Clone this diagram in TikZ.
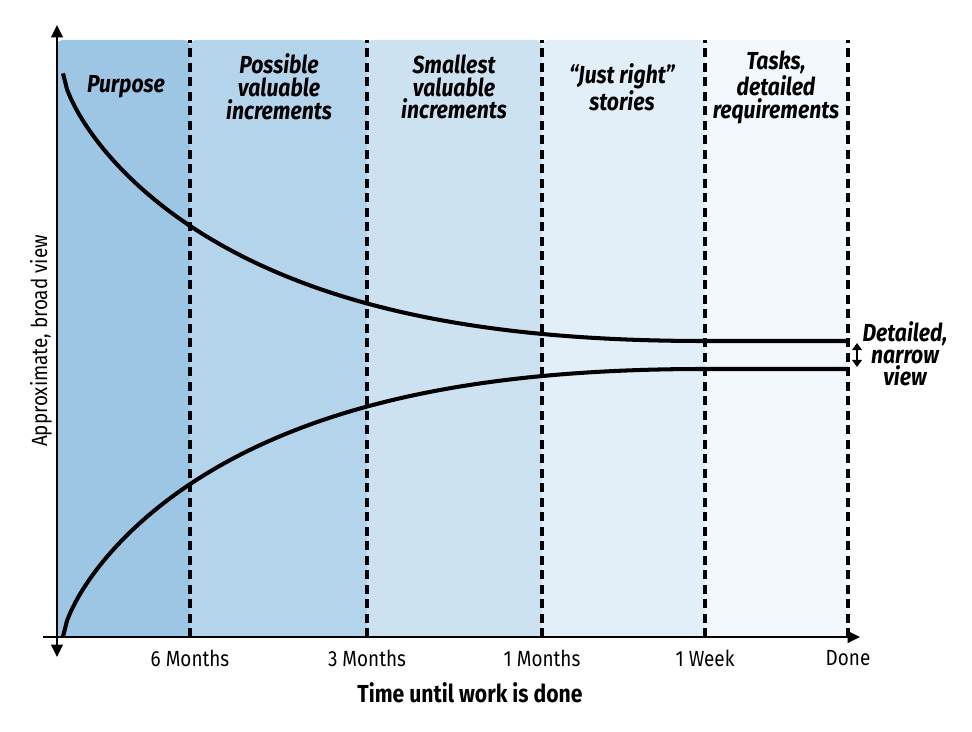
\documentclass[tikz,border=0pt]{standalone}
\usepackage{fontspec}
\setmainfont{Fira Sans}[FakeStretch=0.86]
\usetikzlibrary{arrows.meta}
\definecolor{bandA}{RGB}{157,198,228}
\definecolor{bandB}{RGB}{180,212,235}
\definecolor{bandC}{RGB}{205,226,241}
\definecolor{bandD}{RGB}{227,239,248}
\definecolor{bandE}{RGB}{243,248,252}
\begin{document}
\begin{tikzpicture}[x=0.02cm,y=-0.02cm,
    band/.style={rounded corners=3pt},
    divider/.style={dash pattern=on 0.18cm off 0.11cm, line width=1.8pt},
    curve/.style={line width=2.3pt},
    axis/.style={line width=1.6pt},
    phase/.style={align=center, font=\fontsize{14}{13}\selectfont\bfseries\itshape},
    tick/.style={anchor=north, font=\fontsize{12.5}{14}\selectfont}]
  \useasboundingbox (0,0) rectangle (972,732);
  % points on the time axis
  \coordinate (start) at (57,637);
  \coordinate (m6) at (190,637);
  \coordinate (m3) at (367,637);
  \coordinate (m1) at (542,637);
  \coordinate (w1) at (705,637);
  \coordinate (done) at (848,637);
  % bands
  \fill[bandA, band] (57,40) rectangle (m6);
  \fill[bandB, band] (190,40) rectangle (m3);
  \fill[bandC, band] (367,40) rectangle (m1);
  \fill[bandD, band] (542,40) rectangle (w1);
  \fill[bandE, band] (705,40) rectangle (done);
  \draw[divider] (m6) -- (190,40);
  \draw[divider] (m3) -- (367,40);
  \draw[divider] (m1) -- (542,40);
  \draw[divider] (w1) -- (705,40);
  \draw[divider] (done) -- (848,40);
  \node[phase] (purpose) at (126,87) {Purpose};
  \node[phase] (possible) at (279,87) {Possible\\valuable\\increments};
  \node[phase] (smallest) at (454,87) {Smallest\\valuable\\increments};
  \node[phase] (stories) at (622,87) {“Just right”\\stories};
  \node[phase] (tasks) at (776,87) {Tasks,\\detailed\\requirements};
  % the two curves
  \coordinate (upperEnd) at (848,341);
  \coordinate (lowerEnd) at (848,369);
  \draw[curve] plot[domain=63.01:705, samples=160]
    (\x, {341-268*exp(-0.0221*(\x-63)^0.6)*(1-(\x-63)/642)^2}) -- (upperEnd);
  \draw[curve] plot[domain=63.01:705, samples=160]
    (\x, {369+268*exp(-0.0221*(\x-63)^0.6)*(1-(\x-63)/642)^2}) -- (lowerEnd);
  \coordinate (hi) at (857,343);
  \coordinate (lo) at (857,367);
  \draw[{Triangle[length=4pt,width=5.5pt]}-{Triangle[length=4pt,width=5.5pt]}, line width=1.3pt] (hi) -- (lo);
  \node[phase, font=\fontsize{14}{12.5}\selectfont\bfseries\itshape] (narrow) at (905,354) {Detailed,\\narrow\\view};
  % axes
  \draw[axis, -{Triangle[length=7pt,width=6.5pt]}] (43,637) -- (860,637);
  \draw[axis, {Triangle[length=7pt,width=6.5pt]}-{Triangle[length=7pt,width=6.5pt]}] (57,657) -- (57,25);
  \node[tick] (t6) at (m6) [yshift=-0.14cm] {6 Months};
  \node[tick] (t3) at (m3) [yshift=-0.14cm] {3 Months};
  \node[tick] (t1) at (m1) [yshift=-0.14cm] {1 Months};
  \node[tick] (tw) at (w1) [yshift=-0.14cm] {1 Week};
  \node[tick] (td) at (done) [yshift=-0.14cm] {Done};
  \node[font=\fontsize{14}{16}\selectfont\bfseries] (time) at (470,693) {Time until work is done};
  \node[rotate=90, font=\fontsize{12.5}{14}\selectfont] (broad) at (41,341) {Approximate, broad view};
\end{tikzpicture}
\end{document}
